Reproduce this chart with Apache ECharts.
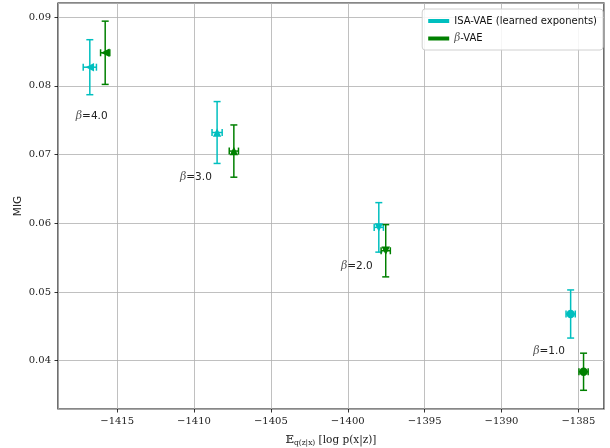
<!DOCTYPE html>
<html>
<head>
<meta charset="utf-8">
<script src="https://cdn.jsdelivr.net/npm/echarts@6/dist/echarts.min.js"></script>
<style>
html, body { margin: 0; padding: 0; background: #fff; }
#chart { width: 610px; height: 448px; }
</style>
</head>
<body>
<div id="chart"></div>
<script>
// beta values, one point per beta for each model
var betas = [4.0, 3.0, 2.0, 1.0];

// ISA-VAE (learned exponents)
var isaX = [-1416.78, -1408.5, -1397.98, -1385.5];
var isaY = [0.0827, 0.0732, 0.0594, 0.0468];
var isaXErr = [0.43, 0.33, 0.3, 0.3];
var isaYErr = [0.0040, 0.0045, 0.0036, 0.0035];

// beta-VAE
var betaX = [-1415.78, -1407.41, -1397.53, -1384.66];
var betaY = [0.0848, 0.0705, 0.0560, 0.0384];
var betaXErr = [0.3, 0.3, 0.3, 0.3];
var betaYErr = [0.0046, 0.0038, 0.0038, 0.0027];

// annotation anchors (data units) for the beta labels
var labelX = [-1416.66, -1409.88, -1399.41, -1386.9];
var labelY = [0.07563, 0.06675, 0.0537, 0.0414];

var cyan = '#00bfbf';
var green = '#008000';
var serif = 'DejaVu Serif';
var sans = 'DejaVu Sans';

// marker for each beta: '<', '^', 'v', 'o'
function markerFor(i) {
	if (i === 3) return 'circle';
	return 'triangle';
}
function markerRotate(i) {
	if (i === 0) return 90;
	if (i === 2) return 180;
	return 0;
}

function errData(xs, ys, exs, eys) {
	return xs.map(function (x, i) {
		return [x, ys[i], exs[i], eys[i]];
	});
}

function errRender(color) {
	return function (params, api) {
		var x = api.value(0), y = api.value(1), ex = api.value(2), ey = api.value(3);
		var top = api.coord([x, y + ey]);
		var bot = api.coord([x, y - ey]);
		var lft = api.coord([x - ex, y]);
		var rgt = api.coord([x + ex, y]);
		var cap = 3.5;
		var st = { stroke: color, lineWidth: 1.5 };
		function ln(x1, y1, x2, y2) {
			return { type: 'line', shape: { x1: x1, y1: y1, x2: x2, y2: y2 }, style: st };
		}
		return {
			type: 'group',
			children: [
				ln(top[0], top[1], bot[0], bot[1]),
				ln(top[0] - cap, top[1], top[0] + cap, top[1]),
				ln(bot[0] - cap, bot[1], bot[0] + cap, bot[1]),
				ln(lft[0], lft[1], rgt[0], rgt[1]),
				ln(lft[0], lft[1] - cap, lft[0], lft[1] + cap),
				ln(rgt[0], rgt[1] - cap, rgt[0], rgt[1] + cap)
			]
		};
	};
}

function labelRender(params, api) {
	var p = api.coord([api.value(0), api.value(1)]);
	var b = betas[params.dataIndex];
	return {
		type: 'text',
		x: p[0],
		y: p[1],
		style: {
			text: '{b|β}{t|=' + b.toFixed(1) + '}',
			align: 'center',
			verticalAlign: 'middle',
			rich: {
				b: { fontFamily: serif, fontStyle: 'italic', fontSize: 11, fill: '#555' },
				t: { fontFamily: sans, fontSize: 10.5, fill: '#222' }
			}
		}
	};
}

var chart = echarts.init(document.getElementById('chart'), null, { renderer: 'canvas' });

var option = {
	animation: false,
	backgroundColor: '#fff',
	grid: {
		left: 58,
		right: 6,
		top: 3,
		bottom: 39,
		containLabel: false,
		outerBoundsMode: 'none',
		show: true,
		borderColor: '#111',
		borderWidth: 1.2
	},
	legend: {
		data: ['ISA-VAE (learned exponents)', 'β-VAE'],
		orient: 'vertical',
		right: 7,
		top: 9,
		icon: 'rect',
		itemWidth: 21,
		itemHeight: 4,
		itemGap: 7,
		padding: [7, 6, 6, 6],
		backgroundColor: 'rgba(255,255,255,0.85)',
		borderColor: '#d0d0d0',
		borderWidth: 1,
		borderRadius: 3,
		formatter: function (name) {
			return name === 'β-VAE' ? '{b|β}-VAE' : name;
		},
		textStyle: {
			fontFamily: sans,
			fontSize: 10,
			color: '#111',
			rich: {
				b: { fontFamily: serif, fontStyle: 'italic', fontSize: 10.5, color: '#555' }
			}
		}
	},
	xAxis: {
		type: 'value',
		min: -1418.85,
		max: -1383.33,
		splitNumber: 7,
		name: '{E|𝔼}{s|q(z|x)} [log p(x|z)]',
		nameLocation: 'middle',
		nameGap: 24,
		nameMoveOverlap: false,
		nameTextStyle: {
			fontFamily: serif,
			fontSize: 10.5,
			color: '#222',
			rich: {
				E: { fontFamily: serif, fontSize: 11, color: '#222' },
				s: { fontFamily: serif, fontSize: 7.5, color: '#222', padding: [6, 0, 0, 0] }
			}
		},
		axisLine: { show: false },
		axisTick: { show: true, length: 3.5, lineStyle: { color: '#000', width: 0.8 } },
		axisLabel: {
			showMinLabel: false,
			showMaxLabel: false,
			margin: 7,
			fontFamily: serif,
			fontSize: 10,
			color: '#222',
			formatter: function (v) { return String(v).replace('-', '\u2212'); }
		},
		splitLine: { show: true, lineStyle: { color: '#b0b0b0', width: 0.8 } }
	},
	yAxis: {
		type: 'value',
		min: 0.03298,
		max: 0.09204,
		splitNumber: 6,
		name: 'MIG',
		nameLocation: 'middle',
		nameGap: 34,
		nameMoveOverlap: false,
		nameRotate: 90,
		nameTextStyle: { fontFamily: sans, fontSize: 10.5, color: '#222' },
		axisLine: { show: false },
		axisTick: { show: true, length: 3.5, lineStyle: { color: '#000', width: 0.8 } },
		axisLabel: {
			showMinLabel: false,
			showMaxLabel: false,
			margin: 7,
			fontFamily: serif,
			fontSize: 10,
			color: '#222',
			formatter: function (v) { return v.toFixed(2); }
		},
		splitLine: { show: true, lineStyle: { color: '#b0b0b0', width: 0.8 } }
	},
	series: [
		{
			name: 'ISA-VAE (learned exponents)',
			type: 'custom',
			color: cyan,
			itemStyle: { color: cyan },
			renderItem: errRender(cyan),
			data: errData(isaX, isaY, isaXErr, isaYErr),
			z: 3
		},
		{
			name: 'β-VAE',
			type: 'custom',
			color: green,
			itemStyle: { color: green },
			renderItem: errRender(green),
			data: errData(betaX, betaY, betaXErr, betaYErr),
			z: 3
		},
		{
			name: 'isa-markers',
			type: 'scatter',
			data: isaX.map(function (x, i) { return [x, isaY[i]]; }),
			symbol: function (v, p) { return markerFor(p.dataIndex); },
			symbolRotate: function (v, p) { return markerRotate(p.dataIndex); },
			symbolSize: 8.5,
			itemStyle: { color: cyan, opacity: 1 },
			z: 4
		},
		{
			name: 'beta-markers',
			type: 'scatter',
			data: betaX.map(function (x, i) { return [x, betaY[i]]; }),
			symbol: function (v, p) { return markerFor(p.dataIndex); },
			symbolRotate: function (v, p) { return markerRotate(p.dataIndex); },
			symbolSize: 8.5,
			itemStyle: { color: green, opacity: 1 },
			z: 4
		},
		{
			name: 'beta-labels',
			type: 'custom',
			renderItem: labelRender,
			data: labelX.map(function (x, i) { return [x, labelY[i]]; }),
			silent: true,
			z: 5
		}
	]
};

chart.setOption(option);
</script>
</body>
</html>
